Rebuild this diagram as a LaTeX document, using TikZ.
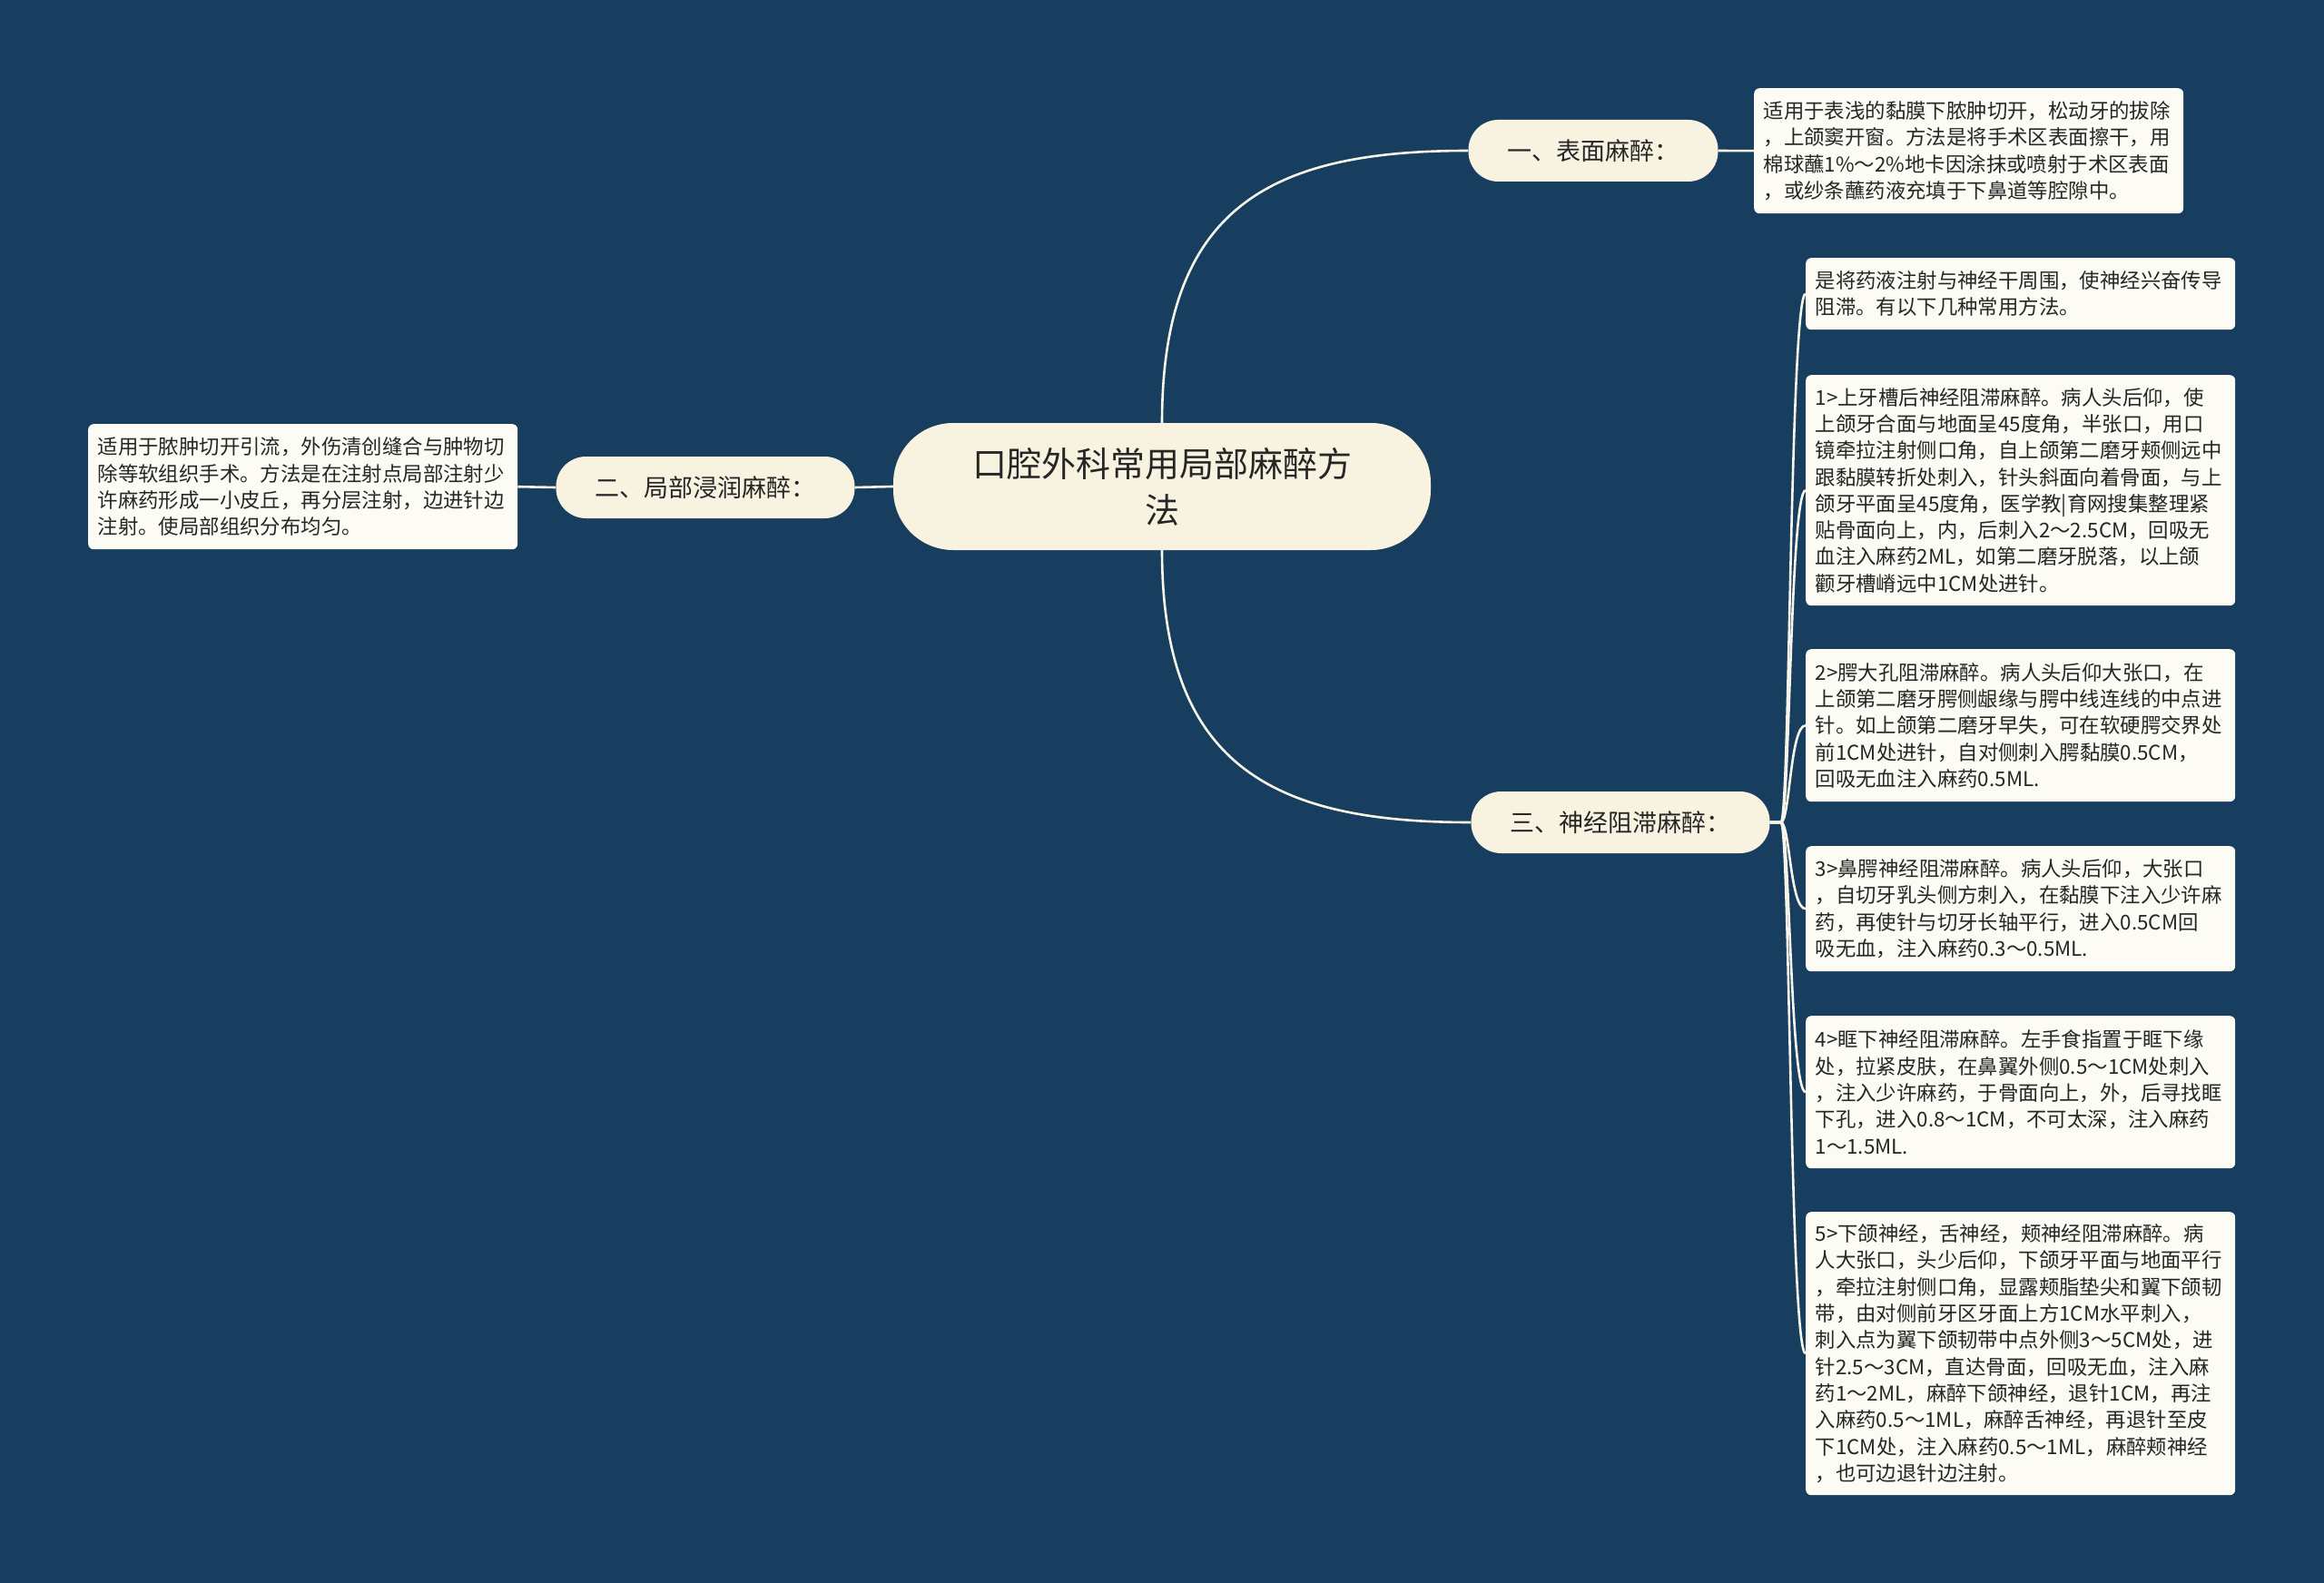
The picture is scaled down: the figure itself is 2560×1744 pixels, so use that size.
\documentclass[tikz,border=0pt]{standalone}
\usepackage{fontspec}
\setmainfont{Noto Sans CJK SC}
\usetikzlibrary{calc}
\definecolor{bgc}{HTML}{173D5F}
\definecolor{pill}{HTML}{F8F3E1}
\definecolor{leafc}{HTML}{FCFBF4}
\definecolor{ink}{HTML}{262626}
\definecolor{wire}{HTML}{F7F4EA}
\begin{document}
\begin{tikzpicture}[x=1pt,y=-1pt,
  conn/.style={draw=wire,line width=2.6pt},
  root/.style={fill=pill, rounded corners=66pt, minimum width=592pt, minimum height=140pt, align=center, text=ink, font=\fontsize{38}{51}\selectfont, inner sep=0pt},
  topic/.style={fill=pill, rounded corners=33pt, minimum height=68pt, inner xsep=43pt, inner ysep=0pt, text=ink, font=\fontsize{27}{32}\selectfont},
  leafbox/.style={fill=leafc, rounded corners=6pt, text width=452pt, inner xsep=10.5pt, inner ysep=6pt, align=left, anchor=north west, text=ink, font=\fontsize{22.4}{29.3}\selectfont}]
\fill[bgc] (0,0) rectangle (2560,1744);
\useasboundingbox (0,0) rectangle (2560,1744);

\node[root] (c) at (1280,536) {口腔外科常用局部麻醉方\\法};
\node[topic] (n1) at (1755,166) {一、表面麻醉：};
\node[topic] (n2) at (777,537) {二、局部浸润麻醉：};
\node[topic] (n3) at (1785,906) {三、神经阻滞麻醉：};

\node[leafbox, minimum height=138pt] (t1) at (1932,97) {适用于表浅的黏膜下脓肿切开，松动牙的拔除\\，上颌窦开窗。方法是将手术区表面擦干，用\\棉球蘸1\%～2\%地卡因涂抹或喷射于术区表面\\，或纱条蘸药液充填于下鼻道等腔隙中。};
\node[leafbox, minimum height=138pt] (t2) at (97,467) {适用于脓肿切开引流，外伤清创缝合与肿物切\\除等软组织手术。方法是在注射点局部注射少\\许麻药形成一小皮丘，再分层注射，边进针边\\注射。使局部组织分布均匀。};

\node[leafbox, minimum height=79pt] (L0) at (1989,284) {是将药液注射与神经干周围，使神经兴奋传导\\阻滞。有以下几种常用方法。};
\node[leafbox, minimum height=254pt] (L1) at (1989,413) {1>上牙槽后神经阻滞麻醉。病人头后仰，使\\上颌牙合面与地面呈45度角，半张口，用口\\镜牵拉注射侧口角，自上颌第二磨牙颊侧远中\\跟黏膜转折处刺入，针头斜面向着骨面，与上\\颌牙平面呈45度角，医学教|育网搜集整理紧\\贴骨面向上，内，后刺入2～2.5CM，回吸无\\血注入麻药2ML，如第二磨牙脱落，以上颌\\颧牙槽嵴远中1CM处进针。};
\node[leafbox, minimum height=168pt] (L2) at (1989,715) {2>腭大孔阻滞麻醉。病人头后仰大张口，在\\上颌第二磨牙腭侧龈缘与腭中线连线的中点进\\针。如上颌第二磨牙早失，可在软硬腭交界处\\前1CM处进针，自对侧刺入腭黏膜0.5CM，\\回吸无血注入麻药0.5ML.};
\node[leafbox, minimum height=138pt] (L3) at (1989,932) {3>鼻腭神经阻滞麻醉。病人头后仰，大张口\\，自切牙乳头侧方刺入，在黏膜下注入少许麻\\药，再使针与切牙长轴平行，进入0.5CM回\\吸无血，注入麻药0.3～0.5ML.};
\node[leafbox, minimum height=168pt] (L4) at (1989,1119) {4>眶下神经阻滞麻醉。左手食指置于眶下缘\\处，拉紧皮肤，在鼻翼外侧0.5～1CM处刺入\\，注入少许麻药，于骨面向上，外，后寻找眶\\下孔，进入0.8～1CM，不可太深，注入麻药\\1～1.5ML.};
\node[leafbox, minimum height=312pt] (L5) at (1989,1335) {5>下颌神经，舌神经，颊神经阻滞麻醉。病\\人大张口，头少后仰，下颌牙平面与地面平行\\，牵拉注射侧口角，显露颊脂垫尖和翼下颌韧\\带，由对侧前牙区牙面上方1CM水平刺入，\\刺入点为翼下颌韧带中点外侧3～5CM处，进\\针2.5～3CM，直达骨面，回吸无血，注入麻\\药1～2ML，麻醉下颌神经，退针1CM，再注\\入麻药0.5～1ML，麻醉舌神经，再退针至皮\\下1CM处，注入麻药0.5～1ML，麻醉颊神经\\，也可边退针边注射。};

\draw[conn] (c.west) -- (n2.east);
\draw[conn] (n2.west) -- (t2.east);
\draw[conn] (n1.east) -- (t1.west);
\draw[conn] (c.north) .. controls ($(c.north)+(0,-240)$) and ($(n1.west)+(-215,0)$) .. (n1.west);
\draw[conn] (c.south) .. controls ($(c.south)+(0,240)$) and ($(n3.west)+(-215,0)$) .. (n3.west);
\coordinate (br) at ($(n3.east)+(12,0)$);
\foreach \L in {L0,L1,L2,L3,L4,L5}{
  \draw[conn] (n3.east) -- (br) .. controls ($(br)+(10,0)$) and ($(br |- \L.west)+(10,0)$) .. (\L.west);
}
\end{tikzpicture}
\end{document}
